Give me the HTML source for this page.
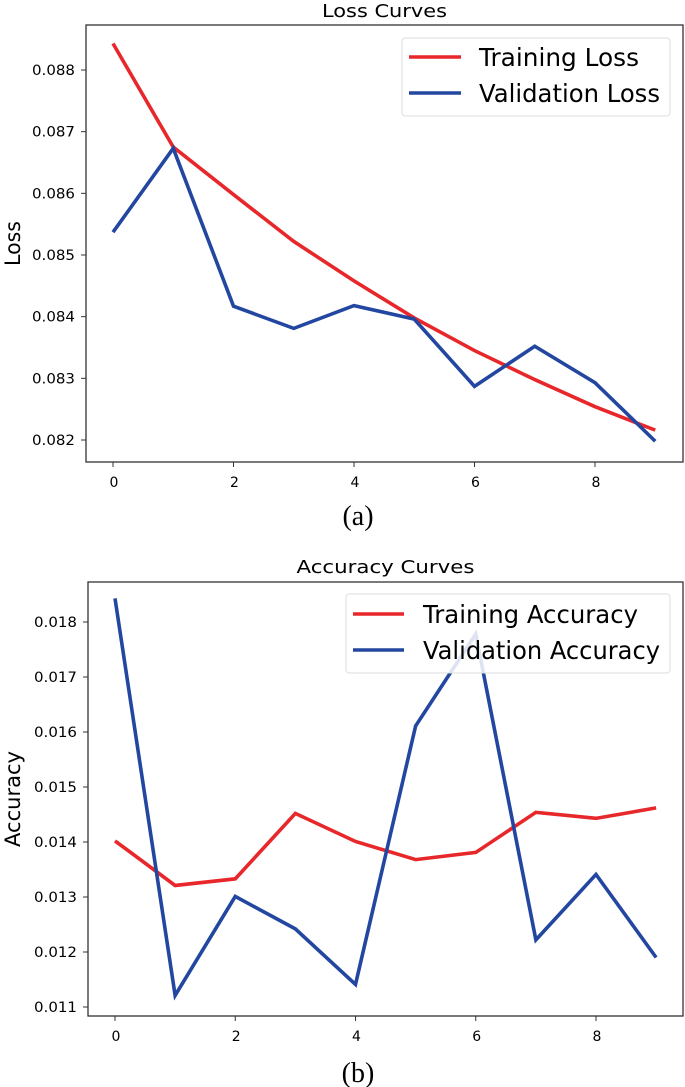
<!DOCTYPE html>
<html><head><meta charset="utf-8"><style>
body{margin:0;background:#fff;width:685px;height:1087px;overflow:hidden}
svg{display:block}
text{font-family:"DejaVu Sans","Liberation Sans",sans-serif;fill:#000}
.cap{font-family:"Liberation Serif",serif;font-size:28px}
</style></head><body>
<svg id="svg" width="685" height="1087"></svg>
<script>
const xTicks=[0,2,4,6,8];
const epochs=[0,1,2,3,4,5,6,7,8,9];
const lossTicks=[0.082,0.083,0.084,0.085,0.086,0.087,0.088];
const trainLoss=[0.08843,0.08675,0.08598,0.08522,0.08458,0.08398,0.08345,0.08298,0.08254,0.08216];
const valLoss=[0.08537,0.08673,0.08417,0.08381,0.08418,0.08396,0.08287,0.08352,0.08293,0.08198];
const accTicks=[0.011,0.012,0.013,0.014,0.015,0.016,0.017,0.018];
const trainAcc=[0.01402,0.01321,0.01333,0.01452,0.01401,0.01368,0.01381,0.01454,0.01443,0.01462];
const valAcc=[0.01843,0.01121,0.01301,0.01242,0.01141,0.01611,0.01778,0.01222,0.01341,0.01190];

const NS="http://www.w3.org/2000/svg";
const svg=document.getElementById('svg');
function mk(tag,attrs,parent,txt){const e=document.createElementNS(NS,tag);for(const k in attrs)e.setAttribute(k,attrs[k]);if(txt!==undefined)e.textContent=txt;(parent||svg).appendChild(e);return e;}

function chart(cfg){
  const g=mk('g',{});
  
  
  const xs=v=>cfg.x0+(v-0)*(cfg.x8-cfg.x0)/8;
  const ys=v=>cfg.yA+(v-cfg.vA)*(cfg.yB-cfg.yA)/(cfg.vB-cfg.vA);
  const t=mk('text',{x:(cfg.L+cfg.R)/2,y:cfg.titleY,'text-anchor':'middle','font-size':18,textLength:cfg.titleW,lengthAdjust:'spacingAndGlyphs'},g,cfg.title);
  
  
  const yl=mk('text',{x:0,y:0,'text-anchor':'middle','font-size':21,textLength:cfg.ylabW,lengthAdjust:'spacingAndGlyphs',transform:`translate(${cfg.ylabX},${(cfg.T+cfg.B)/2}) rotate(-90)`},g,cfg.ylabel);
  
  
  cfg.yTicks.forEach(v=>{
    const y=ys(v);
    mk('line',{x1:cfg.L-5,x2:cfg.L,y1:y,y2:y,stroke:'#333','stroke-width':1},g);
    const tl=mk('text',{x:cfg.L-11,y:y+5,'text-anchor':'end','font-size':14,'textLength':43,'lengthAdjust':'spacingAndGlyphs'},g,v.toFixed(3));
    
    
  });
  xTicks.forEach(v=>{
    const x=xs(v);
    mk('line',{x1:x,x2:x,y1:cfg.B,y2:cfg.B+5,stroke:'#333','stroke-width':1},g);
    const tl=mk('text',{x:x+1,y:cfg.B+25,'text-anchor':'middle','font-size':14},g,String(v));
    
    
  });
  const series=[[cfg.train,'#e8272b','train-line'],[cfg.val,'#2347a0','validation-line']];
  series.forEach(([arr,col,nm])=>{
    const p=mk('polyline',{points:arr.map((v,i)=>xs(epochs[i])+','+ys(v)).join(' '),fill:'none',stroke:col,'stroke-width':3.6,'stroke-linejoin':'miter'},g);
    
    
  });
  mk('rect',{x:cfg.L,y:cfg.T,width:cfg.R-cfg.L,height:cfg.B-cfg.T,fill:'none',stroke:'#333','stroke-width':1.3},g);
  const lg=mk('g',{},g);
  
  
  const lb=cfg.leg;
  mk('rect',{x:lb.x,y:lb.y,width:lb.w,height:lb.h,rx:3,fill:'#fff','fill-opacity':0.85,stroke:'#ddd'},lg);
  cfg.entries.forEach(([s,c,yy,w])=>{
    mk('line',{x1:lb.lx1,x2:lb.lx2,y1:yy,y2:yy,stroke:c,'stroke-width':3.6},lg);
    const tx=mk('text',{x:lb.tx,y:yy+9,'font-size':25,textLength:w,lengthAdjust:'spacingAndGlyphs'},lg,s);
    
    
  });
  const c=mk('text',{x:cfg.capX,y:cfg.capY,'text-anchor':'middle',class:'cap'},g,cfg.cap);
  
  
}
chart({name:'loss-chart',title:'Loss Curves',titleW:125,ylabel:'Loss',ylabW:45,L:86,R:683,T:25,B:462,titleY:17,ylabX:20,
  x0:113,x8:595,vA:0.088,yA:70,vB:0.082,yB:440,yTicks:lossTicks,train:trainLoss,val:valLoss,
  leg:{x:402,y:38,w:268,h:78,lx1:409,lx2:461,tx:479},
  entries:[['Training Loss','#e8272b',57,160],['Validation Loss','#2347a0',93,181]],
  cap:'(a)',capX:358,capY:525});
chart({name:'accuracy-chart',title:'Accuracy Curves',titleW:178,ylabel:'Accuracy',ylabW:96,L:88,R:683,T:582,B:1016,titleY:573,ylabX:20,
  x0:115,x8:596,vA:0.018,yA:622,vB:0.011,yB:1007,yTicks:accTicks,train:trainAcc,val:valAcc,
  leg:{x:346,y:594,w:324,h:79,lx1:353,lx2:404,tx:423},
  entries:[['Training Accuracy','#e8272b',614,215],['Validation Accuracy','#2347a0',650,237]],
  cap:'(b)',capX:358,capY:1082});
</script>
</body></html>
